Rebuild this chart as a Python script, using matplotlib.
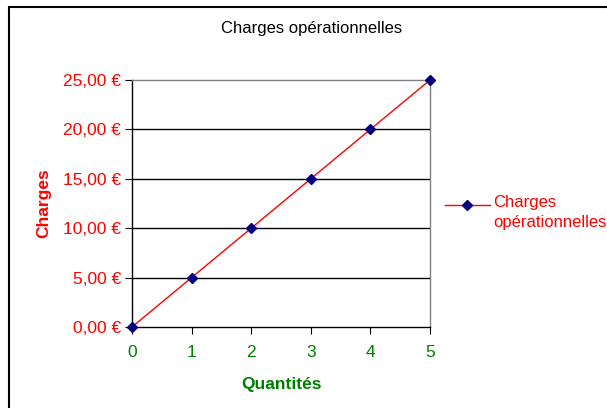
import matplotlib
matplotlib.use("Agg")
import matplotlib.pyplot as plt
from matplotlib.patches import Rectangle
from matplotlib.lines import Line2D

plt.rcParams["font.family"] = ["Liberation Sans", "DejaVu Sans"]

quantites = [0, 1, 2, 3, 4, 5]
charges = [0, 5, 10, 15, 20, 25]
y_ticks = [0, 5, 10, 15, 20, 25]
y_labels = ["0,00 €", "5,00 €", "10,00 €", "15,00 €", "20,00 €", "25,00 €"]
serie = "Charges opérationnelles"

W, H = 607, 408
fig = plt.figure(figsize=(W / 100, H / 100), dpi=100)
ax = fig.add_axes([132 / W, 1 - 327 / H, 298 / W, 247 / H])

# outer chart frame (runs off the right/bottom edge like the source)
fig.patches.append(Rectangle((9 / W, -0.05), 1.1, 1 - 7 / H + 0.05,
                             transform=fig.transFigure, fill=False,
                             edgecolor="black", linewidth=1.5))

for y in y_ticks[1:-1]:
    ax.axhline(y, color="black", linewidth=1, zorder=1)

ax.plot(quantites, charges, color="red", linewidth=1, marker="D",
        markersize=5.5, markerfacecolor="#000080", markeredgecolor="#000080",
        zorder=3, clip_on=False)

ax.set_xlim(0, 5)
ax.set_ylim(0, 25)
ax.set_xticks(quantites)
ax.set_yticks(y_ticks)
ax.set_yticklabels(y_labels)
ax.tick_params(axis="y", labelsize=12.5, direction="out", length=5,
               labelcolor="red", color="black", pad=3)
ax.tick_params(axis="x", labelsize=12.5, direction="out", length=5,
               labelcolor="green", color="black", pad=8)

ax.spines["left"].set_color("black")
ax.spines["bottom"].set_color("black")
ax.spines["top"].set_color("gray")
ax.spines["right"].set_color("gray")
for s in ax.spines.values():
    s.set_linewidth(1)

fig.text(312 / W, 1 - 29 / H, serie, fontsize=12, ha="center", va="center")
ax.set_xlabel("Quantités", color="green", fontsize=12.5, fontweight="bold", labelpad=12)
ax.set_ylabel("Charges", color="red", fontsize=12.5, fontweight="bold", labelpad=8)

# legend key
key_y = 1 - 205 / H
fig.add_artist(Line2D([445 / W, 490 / W], [key_y, key_y], color="red",
                      linewidth=1, transform=fig.transFigure))
fig.add_artist(Line2D([467 / W], [key_y], marker="D", markersize=5.5,
                      markerfacecolor="#000080", markeredgecolor="#000080",
                      linestyle="none", transform=fig.transFigure))
fig.text(493 / W, key_y + 10 / H, "Charges\nopérationnelles", color="red",
         fontsize=12, ha="left", va="top", linespacing=1.45)

fig.savefig("out.png", dpi=100)
